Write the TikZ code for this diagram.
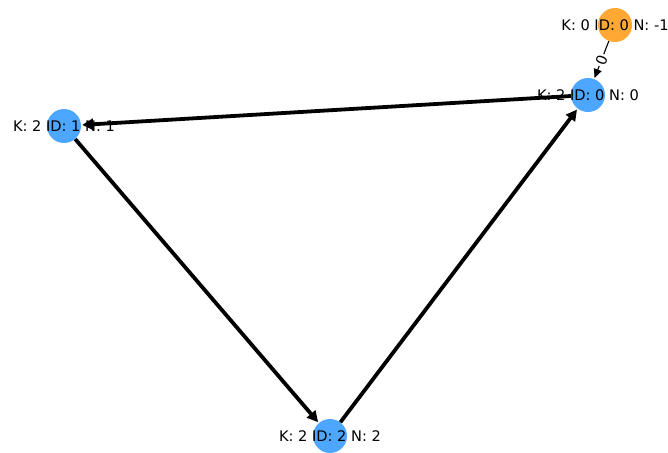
\documentclass[tikz,border=0pt]{standalone}
\usepackage{fontspec}
\setmainfont{DejaVu Sans}
\usetikzlibrary{arrows.meta, positioning}
\definecolor{nodeblue}{RGB}{77,166,255}
\definecolor{nodeorange}{RGB}{255,168,51}

\begin{document}
\begin{tikzpicture}[>=Stealth, x=1pt, y=-1pt,
    vertex/.style={circle, minimum size=34pt, inner sep=0pt, draw=none},
    txt/.style={font=\fontsize{14.6}{16}\selectfont, inner sep=0pt},
    edge/.style={->, line width=3.8pt, shorten >=1pt,
                 >={Triangle[length=11pt, width=11pt]}}]
  \useasboundingbox (0,0) rectangle (668,452);

  % vertices
  \node[vertex, fill=nodeorange] (r)  at (615,25)  {};
  \node[vertex, fill=nodeblue]   (n0) at (588,95)  {};
  \node[vertex, fill=nodeblue]   (n1) at (64,126)  {};
  \node[vertex, fill=nodeblue]   (n2) at (330,436) {};

  % labels
  \foreach \n/\t in {r/{K: 0 ID: 0 N: -1}, n0/{K: 2 ID: 0 N: 0},
                     n1/{K: 2 ID: 1 N: 1}, n2/{K: 2 ID: 2 N: 2}} {
    \node[txt] at (\n.center) {\t};
  }

  % edges of the cycle
  \foreach \a/\b in {n0/n1, n1/n2, n2/n0} {
    \draw[edge] (\a) -- (\b);
  }
  % root edge
  \draw[->, line width=1.1pt, shorten >=1pt,
        >={Triangle[length=9pt, width=8pt]}] (r) -- (n0)
    node[midway, sloped, fill=white, txt, inner sep=1.5pt] {0};
\end{tikzpicture}
\end{document}
